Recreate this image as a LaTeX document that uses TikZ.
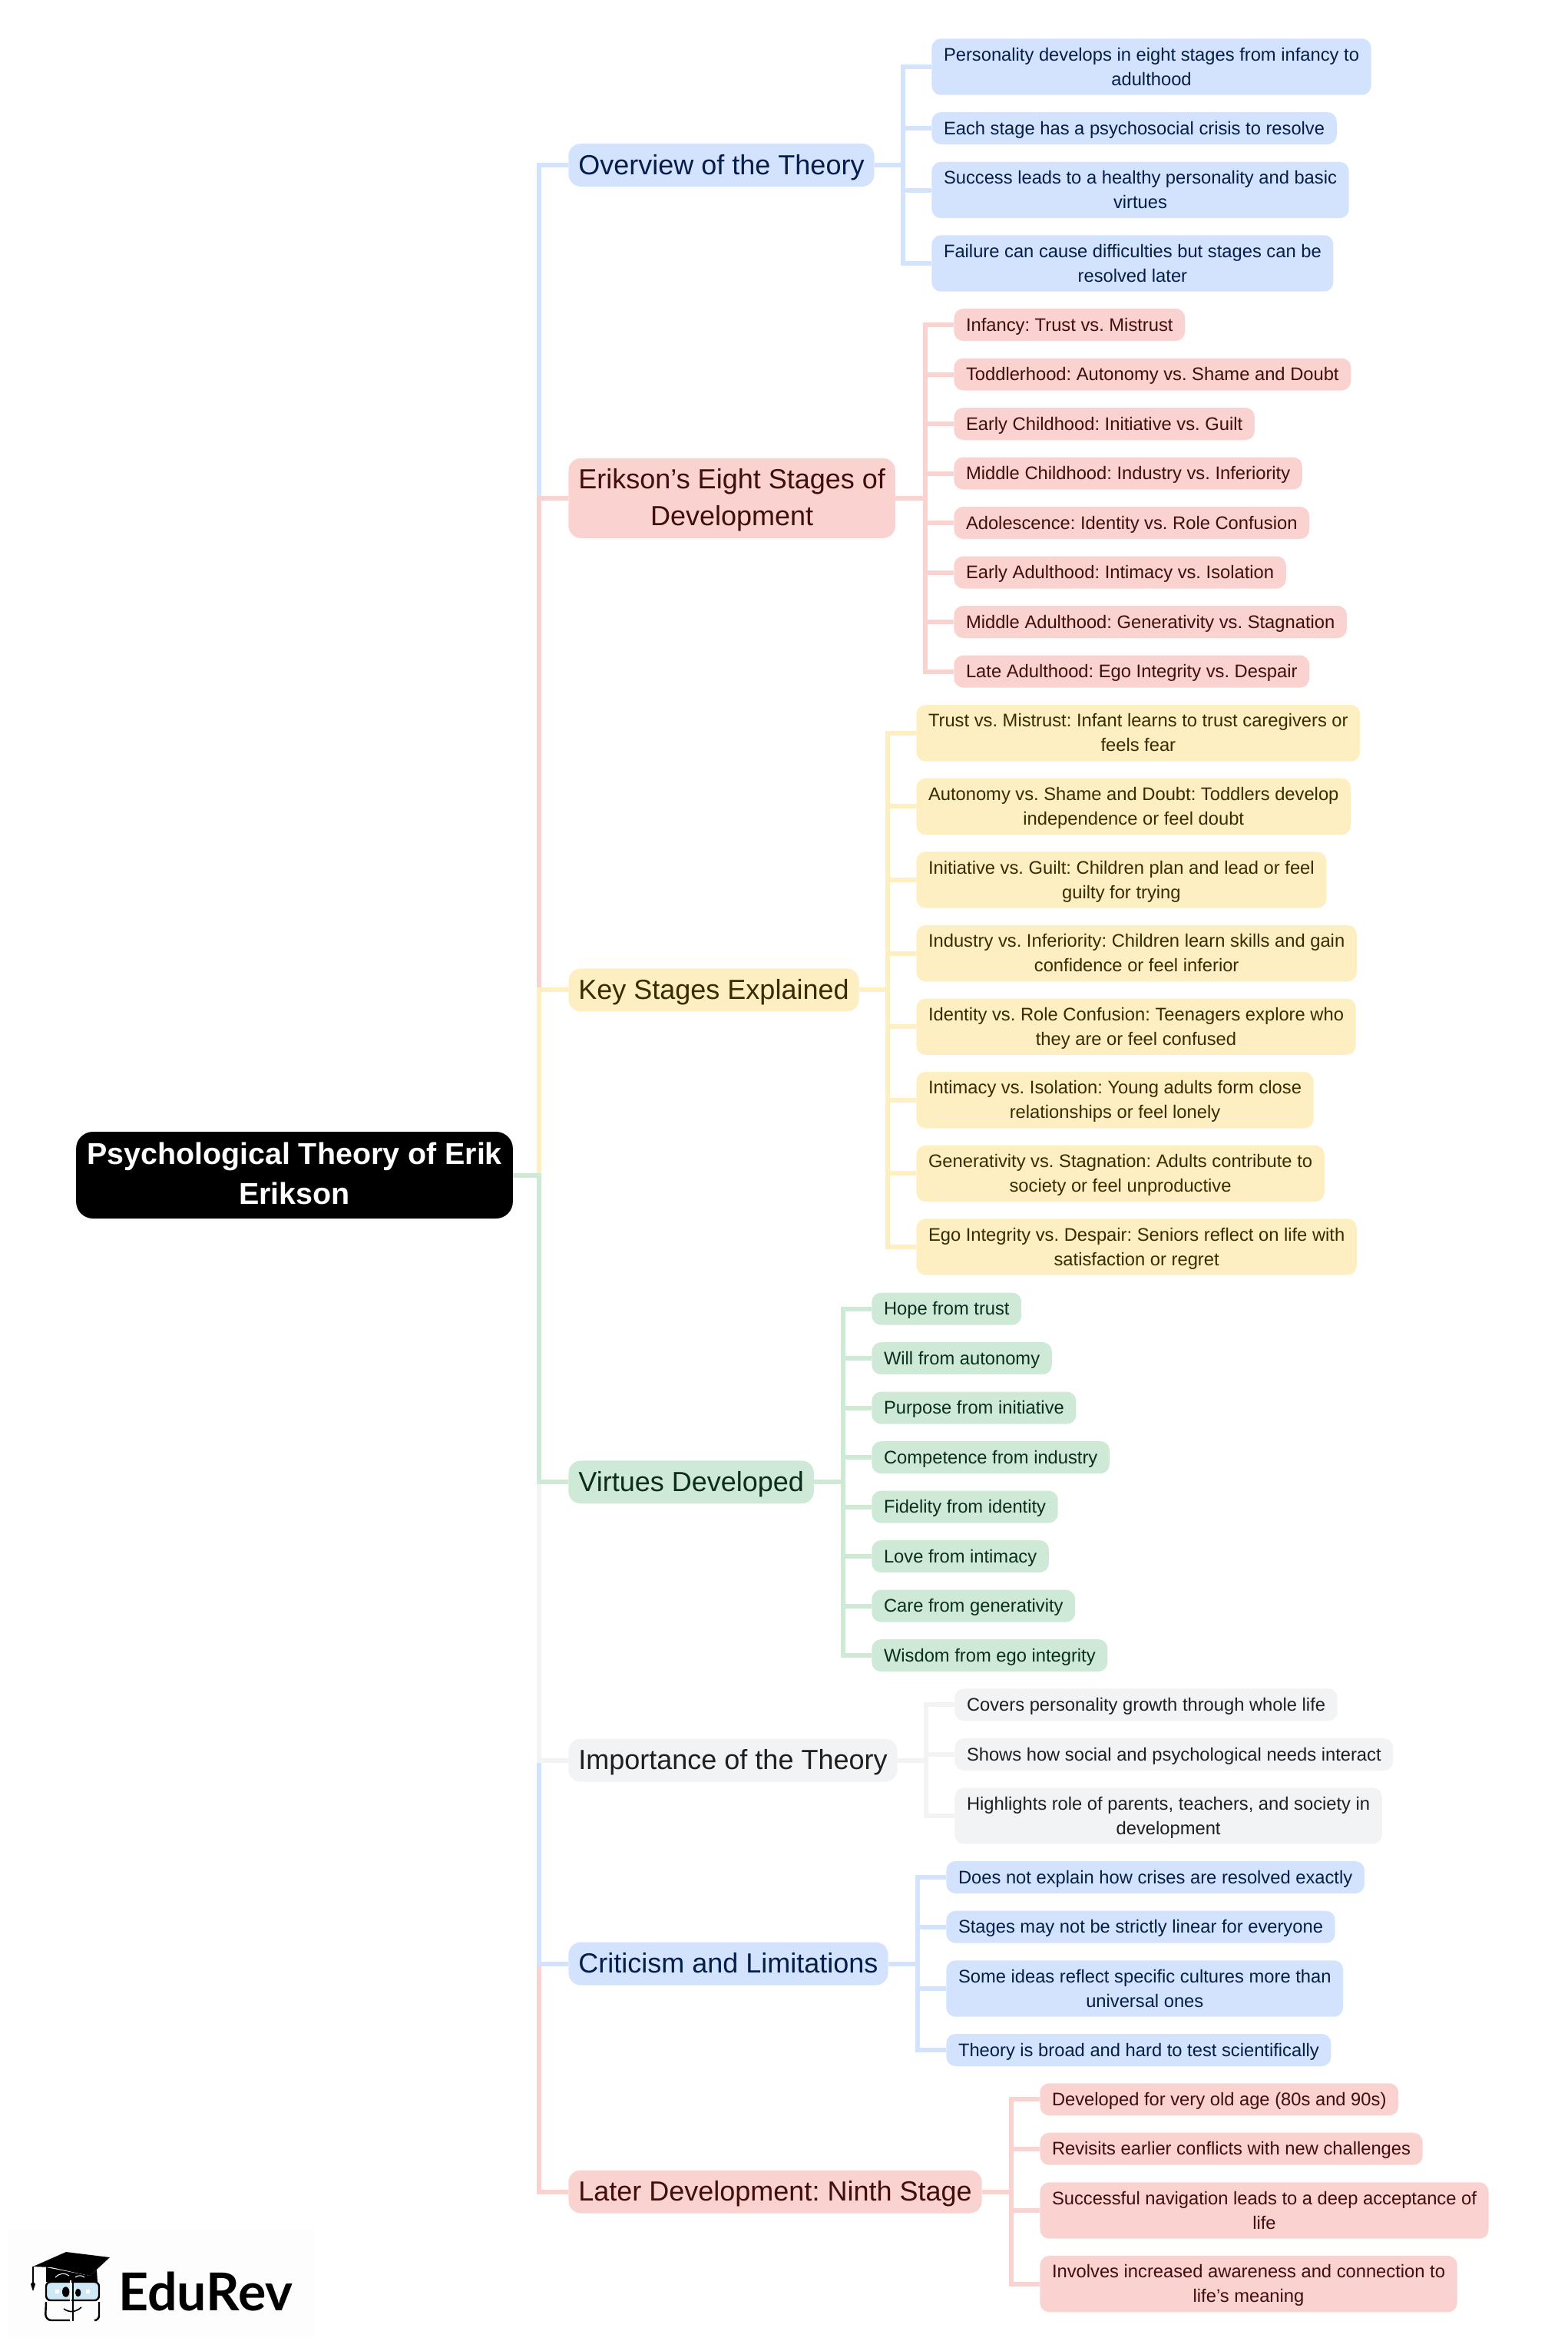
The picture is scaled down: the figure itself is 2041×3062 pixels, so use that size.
\documentclass[tikz,border=0pt]{standalone}
\usepackage{fontspec}
\setmainfont{Liberation Sans}
\newfontfamily\logofont{Lato}
\usepackage[HTML]{xcolor}
\usetikzlibrary{positioning}

\definecolor{boxblue}{HTML}{D3E3FD}
\definecolor{boxred}{HTML}{FAD2CF}
\definecolor{boxyellow}{HTML}{FEEFC3}
\definecolor{boxgreen}{HTML}{CEEAD6}
\definecolor{boxgray}{HTML}{F1F3F4}
\definecolor{inkblue}{HTML}{041E49}
\definecolor{inkred}{HTML}{410E0B}
\definecolor{inkyellow}{HTML}{3A2A00}
\definecolor{inkgreen}{HTML}{0A2E18}
\definecolor{inkgray}{HTML}{1F1F1F}
\definecolor{logoback}{HTML}{FDFDFD}
\definecolor{logoglass}{HTML}{CFE8F7}

\tikzset{
  leaf/.style={anchor=west,rounded corners=6pt,inner xsep=7.8pt,inner ysep=2.35pt,minimum height=21pt,align=center,text height=12pt,text depth=4pt,
    font=\fontsize{11.87}{16}\selectfont\frenchspacing},
  twoline/.style={text height=28pt},
  branch/.style={anchor=west,rounded corners=8pt,inner xsep=6.5pt,inner ysep=2pt,align=center,text height=18pt,text depth=6pt,
    font=\fontsize{18}{24}\selectfont\frenchspacing},
  rootbox/.style={fill=black,text=white,rounded corners=11pt,inner xsep=7pt,inner ysep=2.25pt,align=center,text height=44.75pt,text depth=7.25pt,
    font=\fontsize{19.7}{26}\selectfont\bfseries},
  blueleaf/.style={leaf,fill=boxblue,text=inkblue},
  redleaf/.style={leaf,fill=boxred,text=inkred},
  yellowleaf/.style={leaf,fill=boxyellow,text=inkyellow},
  greenleaf/.style={leaf,fill=boxgreen,text=inkgreen},
  grayleaf/.style={leaf,fill=boxgray,text=inkgray},
  bluebranch/.style={branch,fill=boxblue,text=inkblue},
  redbranch/.style={branch,fill=boxred,text=inkred},
  yellowbranch/.style={branch,fill=boxyellow,text=inkyellow},
  greenbranch/.style={branch,fill=boxgreen,text=inkgreen},
  graybranch/.style={branch,fill=boxgray,text=inkgray},
  link/.style={line width=3pt}
}

\begin{document}
\begin{tikzpicture}[x=0.5pt,y=-0.5pt]
\useasboundingbox (0,0) rectangle (2041,3062);

% root and trunk
\node[rootbox] (root) at (383.5,1530.5) {Psychological Theory of Erik\\Erikson};
\coordinate (trunk) at (702,0);

% overview
\node[bluebranch] (ov) at (740,215) {Overview of the Theory};
\node[blueleaf,twoline] (ovA) at (1213,87) {Personality develops in eight stages from infancy to\\adulthood};
\node[blueleaf] (ovB) at (1213,167) {Each stage has a psychosocial crisis to resolve};
\node[blueleaf,twoline] (ovC) at (1213,247.5) {Success leads to a healthy personality and basic\\virtues};
\node[blueleaf,twoline] (ovD) at (1213,343) {Failure can cause difficulties but stages can be\\resolved later};
\coordinate (ovbus) at (1176,0);

% eight stages
\node[redbranch,text height=42pt] (st) at (740,648.8) {Erikson’s Eight Stages of\\Development};
\node[redleaf] (stA) at (1242,423) {Infancy: Trust vs. Mistrust};
\node[redleaf] (stB) at (1242,487.5) {Toddlerhood: Autonomy vs. Shame and Doubt};
\node[redleaf] (stC) at (1242,552) {Early Childhood: Initiative vs. Guilt};
\node[redleaf] (stD) at (1242,616.5) {Middle Childhood: Industry vs. Inferiority};
\node[redleaf] (stE) at (1242,681) {Adolescence: Identity vs. Role Confusion};
\node[redleaf] (stF) at (1242,745.5) {Early Adulthood: Intimacy vs. Isolation};
\node[redleaf] (stG) at (1242,810) {Middle Adulthood: Generativity vs. Stagnation};
\node[redleaf] (stH) at (1242,874.5) {Late Adulthood: Ego Integrity vs. Despair};
\coordinate (stbus) at (1205,0);

% key stages
\node[yellowbranch] (ks) at (740,1289.4) {Key Stages Explained};
\node[yellowleaf,twoline] (ksA) at (1193,954.8) {Trust vs. Mistrust: Infant learns to trust caregivers or\\feels fear};
\node[yellowleaf,twoline] (ksB) at (1193,1050.4) {Autonomy vs. Shame and Doubt: Toddlers develop\\independence or feel doubt};
\node[yellowleaf,twoline] (ksC) at (1193,1146) {Initiative vs. Guilt: Children plan and lead or feel\\guilty for trying};
\node[yellowleaf,twoline] (ksD) at (1193,1241.6) {Industry vs. Inferiority: Children learn skills and gain\\confidence or feel inferior};
\node[yellowleaf,twoline] (ksE) at (1193,1337.2) {Identity vs. Role Confusion: Teenagers explore who\\they are or feel confused};
\node[yellowleaf,twoline] (ksF) at (1193,1432.8) {Intimacy vs. Isolation: Young adults form close\\relationships or feel lonely};
\node[yellowleaf,twoline] (ksG) at (1193,1528.4) {Generativity vs. Stagnation: Adults contribute to\\society or feel unproductive};
\node[yellowleaf,twoline] (ksH) at (1193,1624) {Ego Integrity vs. Despair: Seniors reflect on life with\\satisfaction or regret};
\coordinate (ksbus) at (1156,0);

% virtues
\node[greenbranch] (vi) at (740,1930.4) {Virtues Developed};
\node[greenleaf] (viA) at (1135,1704.6) {Hope from trust};
\node[greenleaf] (viB) at (1135,1769.1) {Will from autonomy};
\node[greenleaf] (viC) at (1135,1833.6) {Purpose from initiative};
\node[greenleaf] (viD) at (1135,1898.1) {Competence from industry};
\node[greenleaf] (viE) at (1135,1962.6) {Fidelity from identity};
\node[greenleaf] (viF) at (1135,2027.1) {Love from intimacy};
\node[greenleaf] (viG) at (1135,2091.6) {Care from generativity};
\node[greenleaf] (viH) at (1135,2156.1) {Wisdom from ego integrity};
\coordinate (vibus) at (1098,0);

% importance
\node[graybranch] (im) at (740,2292.6) {Importance of the Theory};
\node[grayleaf] (imA) at (1243,2220.3) {Covers personality growth through whole life};
\node[grayleaf] (imB) at (1243,2285) {Shows how social and psychological needs interact};
\node[grayleaf,twoline] (imC) at (1243,2365) {Highlights role of parents, teachers, and society in\\development};
\coordinate (imbus) at (1206,0);

% criticism
\node[bluebranch] (cr) at (740,2557.5) {Criticism and Limitations};
\node[blueleaf] (crA) at (1232,2445) {Does not explain how crises are resolved exactly};
\node[blueleaf] (crB) at (1232,2509.7) {Stages may not be strictly linear for everyone};
\node[blueleaf,twoline] (crC) at (1232,2590) {Some ideas reflect specific cultures more than\\universal ones};
\node[blueleaf] (crD) at (1232,2670) {Theory is broad and hard to test scientifically};
\coordinate (crbus) at (1195,0);

% ninth stage
\node[redbranch] (ni) at (740,2854.5) {Later Development: Ninth Stage};
\node[redleaf] (niA) at (1354,2734.3) {Developed for very old age (80s and 90s)};
\node[redleaf] (niB) at (1354,2798.7) {Revisits earlier conflicts with new challenges};
\node[redleaf,twoline] (niC) at (1354,2879) {Successful navigation leads to a deep acceptance of\\life};
\node[redleaf,twoline] (niD) at (1354,2974.7) {Involves increased awareness and connection to\\life’s meaning};
\coordinate (nibus) at (1317,0);

% leaf connectors
\foreach \kid in {ovA,ovB,ovC,ovD} \draw[link,boxblue] (ov.east) -- (ov.east -| ovbus) |- (\kid.west);
\foreach \kid in {stA,stB,stC,stD,stE,stF,stG,stH} \draw[link,boxred] (st.east) -- (st.east -| stbus) |- (\kid.west);
\foreach \kid in {ksA,ksB,ksC,ksD,ksE,ksF,ksG,ksH} \draw[link,boxyellow] (ks.east) -- (ks.east -| ksbus) |- (\kid.west);
\foreach \kid in {viA,viB,viC,viD,viE,viF,viG,viH} \draw[link,boxgreen] (vi.east) -- (vi.east -| vibus) |- (\kid.west);
\foreach \kid in {imA,imB,imC} \draw[link,boxgray] (im.east) -- (im.east -| imbus) |- (\kid.west);
\foreach \kid in {crA,crB,crC,crD} \draw[link,boxblue] (cr.east) -- (cr.east -| crbus) |- (\kid.west);
\foreach \kid in {niA,niB,niC,niD} \draw[link,boxred] (ni.east) -- (ni.east -| nibus) |- (\kid.west);

% trunk connectors, nearest branch last
\draw[link,boxblue] (root.east) -- (root.east -| trunk) |- (ov.west);
\draw[link,boxred] (root.east) -- (root.east -| trunk) |- (st.west);
\draw[link,boxyellow] (root.east) -- (root.east -| trunk) |- (ks.west);
\draw[link,boxred] (root.east) -- (root.east -| trunk) |- (ni.west);
\draw[link,boxblue] (root.east) -- (root.east -| trunk) |- (cr.west);
\draw[link,boxgray] (root.east) -- (root.east -| trunk) |- (im.west);
\draw[link,boxgreen] (root.east) -- (root.east -| trunk) |- (vi.west);

% logo
\fill[logoback] (10,2905) rectangle (410,3045);
\fill (43,2952) -- (86,2933) -- (143,2940) -- (117,2964) -- (67,2953) -- cycle;
\fill (60,2953) -- (117,2964) -- (126,2956) -- (127,2972) -- (60,2972) -- cycle;
\draw[white,line width=0.5pt] (72,2966) .. controls (78,2960) and (85,2960) .. (90,2964);
\draw[white,line width=0.5pt] (98,2966) .. controls (102,2963) and (106,2963) .. (110,2966);
\draw[line width=0.6pt] (43,2952) -- (43,2972);
\fill (43,2971) -- (40,2975) -- (43,2984) -- (46,2975) -- cycle;
\draw[line width=1.2pt,fill=logoglass,rounded corners=3pt] (60,2972) rectangle (129,2996);
\draw[line width=1.2pt,rounded corners=4pt] (60,2998) -- (59,3022) -- (92,3022);
\draw[line width=1.2pt,rounded corners=3pt] (129,2998) -- (129,3022) -- (126,3022);
\draw[white,line width=1.4pt] (92,2970) -- (92,3023);
\draw[line width=1.2pt] (95,2970) -- (95,3023);
\fill (85.7,2985) ellipse (4.7 and 6.7);
\fill (101.7,2986) ellipse (3.7 and 5.3);
\fill[white] (72,2981.5) rectangle (77,2986.5);
\fill[white] (111.5,2981.5) rectangle (116.5,2986.5);
\draw[line width=0.8pt] (83,3007) .. controls (90,3012) and (98,3012) .. (106,3005);
\node[anchor=base west,inner sep=0pt,font=\fontsize{34}{34}\selectfont\logofont\bfseries] (logotext) at (154,3009) {EduRev};
\end{tikzpicture}
\end{document}
